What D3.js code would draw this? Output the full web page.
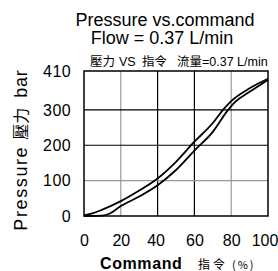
<!DOCTYPE html>
<html>
<head>
<meta charset="utf-8">
<script src="https://cdn.jsdelivr.net/npm/d3@7"></script>
<style>
  body { margin: 0; background: #fff; }
  text { font-family: "Liberation Sans", Arial, sans-serif; fill: #000; }
  .cjk { font-family: "Noto Sans CJK TC", "Noto Sans CJK SC", sans-serif; }
</style>
</head>
<body>
<div id="chart"></div>
<script>
// Command (%) vs pressure (bar), two branches of the hysteresis loop
const upperCurve = [
    [0, 2], [5, 8], [10, 18], [20, 42], [30, 72], [40, 106], [50, 153],
    [60, 210], [70, 263], [76, 303], [80, 325], [90, 361], [100, 388]
];
const lowerCurve = [
    [0, 0], [10, 1], [14, 7], [20, 28], [30, 55], [40, 87], [50, 130],
    [60, 185], [70, 238], [78, 298], [82, 322], [90, 351], [100, 385]
];
const xTicks = [0, 20, 40, 60, 80, 100];
const yTicks = [0, 100, 200, 300, 410];
const xGrid = [20, 40, 60, 80];
const yGrid = [100, 200, 300];
const darkGrid = [40, 60, 200, 300];

const width = 278, height = 271;
const margin = { top: 71, right: 10, bottom: 55, left: 84 };
const innerW = width - margin.left - margin.right;
const innerH = height - margin.top - margin.bottom;

const svg = d3.select("#chart").append("svg")
    .attr("width", width).attr("height", height);

const g = svg.append("g").attr("transform", `translate(${margin.left},${margin.top})`);

const x = d3.scaleLinear().domain([0, 100]).range([0, innerW]);
const y = d3.scaleLinear().domain([0, 410]).range([innerH, 0]);

// Grid
g.selectAll(".vgrid").data(xGrid).enter()
    .append("line")
    .attr("x1", d => x(d)).attr("x2", d => x(d))
    .attr("y1", 0).attr("y2", innerH)
    .attr("stroke", d => darkGrid.includes(d) ? "#000" : "#999")
    .attr("stroke-width", 1.2);

g.selectAll(".hgrid").data(yGrid).enter()
    .append("line")
    .attr("x1", 0).attr("x2", innerW)
    .attr("y1", d => y(d)).attr("y2", d => y(d))
    .attr("stroke", d => darkGrid.includes(d) ? "#000" : "#999")
    .attr("stroke-width", 1.2);

// Frame
g.append("rect")
    .attr("width", innerW).attr("height", innerH)
    .attr("fill", "none").attr("stroke", "#000").attr("stroke-width", 1.5);

// Axes (labels only)
const xAxis = g.append("g")
    .attr("transform", `translate(0,${innerH})`)
    .call(d3.axisBottom(x).tickValues(xTicks).tickSize(0).tickPadding(19));
xAxis.select(".domain").remove();
xAxis.selectAll("text")
    .style("font-family", "Liberation Sans, Arial, sans-serif")
    .style("font-size", "16px")
    .attr("dx", d => d === 100 ? -3.5 : (d === 40 ? -2 : 0));

const yAxis = g.append("g")
    .call(d3.axisLeft(y).tickValues(yTicks).tickSize(0).tickPadding(13));
yAxis.select(".domain").remove();
yAxis.selectAll("text")
    .style("font-family", "Liberation Sans, Arial, sans-serif")
    .style("font-size", "16px")
    .style("letter-spacing", "0.4px");

// Curves
const line = d3.line()
    .x(d => x(d[0])).y(d => y(d[1]))
    .curve(d3.curveMonotoneX);

[upperCurve, lowerCurve].forEach(c => {
    g.append("path")
        .datum(c)
        .attr("d", line)
        .attr("fill", "none")
        .attr("stroke", "#000")
        .attr("stroke-width", 1.8);
});

// Titles
svg.append("text").attr("x", 165).attr("y", 26)
    .attr("text-anchor", "middle").style("font-size", "18px")
    .text("Pressure vs.command");
svg.append("text").attr("x", 162).attr("y", 43.5)
    .attr("text-anchor", "middle").style("font-size", "18px")
    .text("Flow = 0.37 L/min");

const sub = svg.append("text").attr("y", 65.5).style("font-size", "12.5px");
sub.append("tspan").attr("class", "cjk").attr("x", 90).text("壓力");
sub.append("tspan").attr("x", 119).style("font-size", "12.5px").text("VS");
sub.append("tspan").attr("class", "cjk").attr("x", 142).text("指令");
sub.append("tspan").attr("class", "cjk").attr("x", 177).text("流量");
sub.append("tspan").attr("x", 202).style("font-size", "12.5px").text("=0.37 L/min");

// X axis title
const xt = svg.append("text").attr("y", 268.5);
xt.append("tspan").attr("x", 100).style("font-size", "16px").style("font-weight", "bold")
    .style("letter-spacing", "0.6px").text("Command");
xt.append("tspan").attr("class", "cjk").attr("x", 198).style("font-size", "12px")
    .style("letter-spacing", "3px").text("指令");
xt.append("tspan").attr("class", "cjk").attr("x", 232).style("font-size", "11px")
    .style("letter-spacing", "2px").text("(%)");

// Y axis title
const yt = svg.append("text")
    .attr("transform", "translate(27,150) rotate(-90)")
    .attr("text-anchor", "middle").style("font-size", "18px");
yt.append("tspan").style("letter-spacing", "1.6px").text("Pressure");
yt.append("tspan").attr("class", "cjk").attr("dx", 6).style("font-size", "16px").text("壓力");
yt.append("tspan").attr("dx", 10).style("letter-spacing", "0.8px").text("bar");
</script>
</body>
</html>
